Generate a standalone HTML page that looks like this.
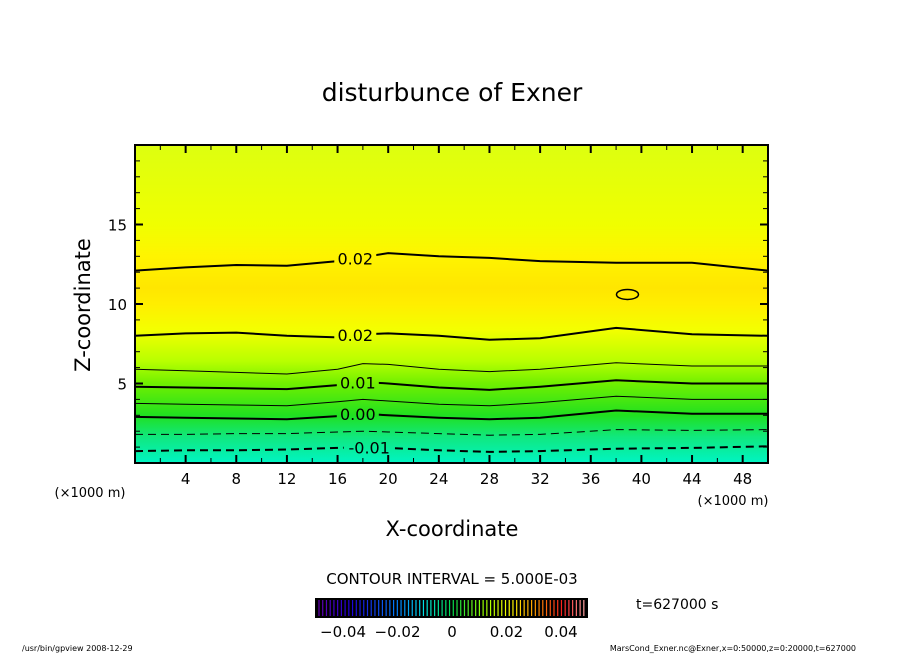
<!DOCTYPE html>
<html><head><meta charset="utf-8"><style>
body{margin:0;background:#fff;}
svg{display:block;font-family:"DejaVu Sans","Liberation Sans",sans-serif;}
</style></head><body>
<svg id="c" width="904" height="654" viewBox="0 0 904 654">
<defs>
<linearGradient id="fg" x1="0" y1="1" x2="0" y2="0">
<stop offset="0" stop-color="#00f4c4"/>
<stop offset="0.08" stop-color="#10e880"/>
<stop offset="0.15" stop-color="#20e020"/>
<stop offset="0.25" stop-color="#70f000"/>
<stop offset="0.32" stop-color="#b8ff00"/>
<stop offset="0.42" stop-color="#f4ff00"/>
<stop offset="0.5" stop-color="#ffee00"/>
<stop offset="0.55" stop-color="#ffe600"/>
<stop offset="0.65" stop-color="#fff400"/>
<stop offset="0.75" stop-color="#f0ff00"/>
<stop offset="1" stop-color="#ddff10"/>
</linearGradient>
<mask id="lblmask" maskUnits="userSpaceOnUse" x="0" y="0" width="904" height="654">
<rect x="0" y="0" width="904" height="654" fill="#fff"/>
<g id="maskholes"></g>
</mask>
</defs>
<text x="452" y="101" font-size="25" text-anchor="middle">disturbunce of Exner</text>
<rect x="135" y="145" width="633" height="318" fill="url(#fg)"/>
<g id="contours" mask="url(#lblmask)"></g>
<g id="clabels"></g>
<g id="axes"></g>
<rect x="135" y="145" width="633" height="318" fill="none" stroke="#000" stroke-width="2"/>
<text x="90" y="305" font-size="21" text-anchor="middle" transform="rotate(-90 90 305)">Z-coordinate</text>
<text x="452" y="536" font-size="21" text-anchor="middle">X-coordinate</text>
<text x="90" y="497" font-size="13" text-anchor="middle">(×1000 m)</text>
<text x="733" y="505" font-size="13" text-anchor="middle">(×1000 m)</text>
<text x="452" y="584" font-size="15" text-anchor="middle">CONTOUR INTERVAL = 5.000E-03</text>
<g id="cbar"></g>
<text x="636" y="609" font-size="14">t=627000 s</text>
<text x="22" y="651" font-size="8">/usr/bin/gpview   2008-12-29</text>
<text x="856" y="651" font-size="8" text-anchor="end">MarsCond_Exner.nc@Exner,x=0:50000,z=0:20000,t=627000</text>
</svg>
<script>
const xSamples=[0,4,8,12,16,18,20,24,28,32,38,44,50];
const levels=[-0.01,-0.005,0.0,0.005,0.01,0.015,0.02,0.02];
const zLevelM010=[0.75,0.8,0.8,0.85,0.95,1.0,0.95,0.8,0.7,0.75,0.9,0.95,1.05];
const zLevelM005=[1.8,1.8,1.85,1.85,1.95,2.0,1.95,1.85,1.75,1.8,2.1,2.05,2.1];
const zLevel000=[2.9,2.85,2.8,2.75,2.95,3.1,3.0,2.85,2.75,2.85,3.3,3.1,3.1];
const zLevel005=[3.75,3.7,3.65,3.6,3.85,4.0,3.9,3.7,3.6,3.8,4.2,4.0,4.0];
const zLevel010=[4.8,4.75,4.7,4.65,4.9,5.1,5.0,4.75,4.6,4.8,5.2,5.0,5.0];
const zLevel015=[5.9,5.8,5.7,5.6,5.9,6.25,6.2,5.9,5.75,5.9,6.3,6.1,6.1];
const zLevel020a=[8.0,8.15,8.2,8.0,7.9,8.1,8.15,8.0,7.75,7.85,8.5,8.1,8.0];
const zLevel020b=[12.1,12.3,12.45,12.4,12.7,12.95,13.2,13.0,12.9,12.7,12.6,12.6,12.1];
const contourZ=[zLevelM010,zLevelM005,zLevel000,zLevel005,zLevel010,zLevel015,zLevel020a,zLevel020b];
const labels=["-0.01",null,"0.00",null,"0.01",null,"0.02","0.02"];
const labelX=[18.5,0,17.6,0,17.6,0,17.4,17.4];
const xTicks=[4,8,12,16,20,24,28,32,36,40,44,48];
const yTicks=[5,10,15];
const cbarTickVals=[-0.04,-0.02,0,0.02,0.04];
const cbarTickLabels=["−0.04","−0.02","0","0.02","0.04"];
const NS="http://www.w3.org/2000/svg";
const X=v=>135+v*633/50, Y=v=>463-v*318/20;
function el(t,a,p){const e=document.createElementNS(NS,t);for(const k in a)e.setAttribute(k,a[k]);p.appendChild(e);return e;}
const cg=document.getElementById('contours');
const lg=document.getElementById('clabels');
const mh=document.getElementById('maskholes');
contourZ.forEach((zs,i)=>{
  const lv=levels[i];
  const major=Math.abs(Math.round(lv*100)-lv*100)<1e-6;
  let d=zs.map((z,j)=>(j?'L':'M')+X(xSamples[j]).toFixed(1)+','+Y(z).toFixed(1)).join(' ');
  const p=el('path',{d:d,fill:'none',stroke:'#000','stroke-width':major?2:1},cg);
  if(lv<0)p.setAttribute('stroke-dasharray','8,5');
  
  
  if(labels[i]){
    const lx=labelX[i];
    let k=0;while(k<xSamples.length-1&&xSamples[k+1]<lx)k++;
    const t=(lx-xSamples[k])/(xSamples[k+1]-xSamples[k]);
    const z=zs[k]+(zs[k+1]-zs[k])*t;
    const w=labels[i].length*9+6;
    el('rect',{x:X(lx)-w/2,y:Y(z)-10,width:w,height:20,fill:'#000'},mh);
    const tx=el('text',{x:X(lx),y:Y(z)+6,'font-size':16,'text-anchor':'middle'},lg);
    tx.textContent=labels[i];
    
    
  }
});
const loop=el('ellipse',{cx:X(38.9),cy:Y(10.6),rx:11,ry:5,fill:'none',stroke:'#000','stroke-width':1.5},lg);


const ag=document.getElementById('axes');
xTicks.forEach(v=>{
  el('line',{x1:X(v),x2:X(v),y1:463,y2:455,stroke:'#000','stroke-width':2},ag);
  el('line',{x1:X(v),x2:X(v),y1:145,y2:153,stroke:'#000','stroke-width':2},ag);
  const t=el('text',{x:X(v),y:484,'font-size':15,'text-anchor':'middle'},ag);
  t.textContent=v;
  
  
});
for(let v=2;v<50;v+=4){el('line',{x1:X(v),x2:X(v),y1:463,y2:458,stroke:'#000'},ag);el('line',{x1:X(v),x2:X(v),y1:145,y2:150,stroke:'#000'},ag);}
yTicks.forEach(v=>{
  el('line',{x1:135,x2:143,y1:Y(v),y2:Y(v),stroke:'#000','stroke-width':2},ag);
  el('line',{x1:768,x2:760,y1:Y(v),y2:Y(v),stroke:'#000','stroke-width':2},ag);
  const t=el('text',{x:127,y:Y(v)+6,'font-size':15,'text-anchor':'end'},ag);
  t.textContent=v;
  
  
});
for(let v=1;v<20;v++){if(v%5){el('line',{x1:135,x2:140,y1:Y(v),y2:Y(v),stroke:'#000'},ag);el('line',{x1:768,x2:763,y1:Y(v),y2:Y(v),stroke:'#000'},ag);}}
const cb=document.getElementById('cbar');
el('rect',{x:315,y:598,width:273,height:20,fill:'#000'},cb);
const CX=v=>452+v*(560-342)/0.08;
function hue(f){const stops=[[0,[100,0,180]],[0.12,[30,0,220]],[0.3,[0,130,255]],[0.4,[0,230,230]],[0.5,[0,220,80]],[0.62,[150,255,0]],[0.72,[255,255,0]],[0.82,[255,150,0]],[0.92,[255,30,30]],[1,[255,160,160]]];
 for(let i=0;i<stops.length-1;i++){if(f<=stops[i+1][0]){const t=(f-stops[i][0])/(stops[i+1][0]-stops[i][0]);return 'rgb('+stops[i][1].map((c,j)=>Math.round(c+(stops[i+1][1][j]-c)*t)).join(',')+')';}}return 'rgb(255,160,160)';}
for(let i=0;i<72;i++){const x=319+i*3.73;el('line',{x1:x,x2:x,y1:600,y2:616,stroke:hue(i/71),'stroke-width':1.2},cb);}
cbarTickVals.forEach((v,i)=>{const t=el('text',{x:CX(v),y:637,'font-size':15,'text-anchor':'middle'},cb);t.textContent=cbarTickLabels[i];
 
 });
</script>
</body></html>
